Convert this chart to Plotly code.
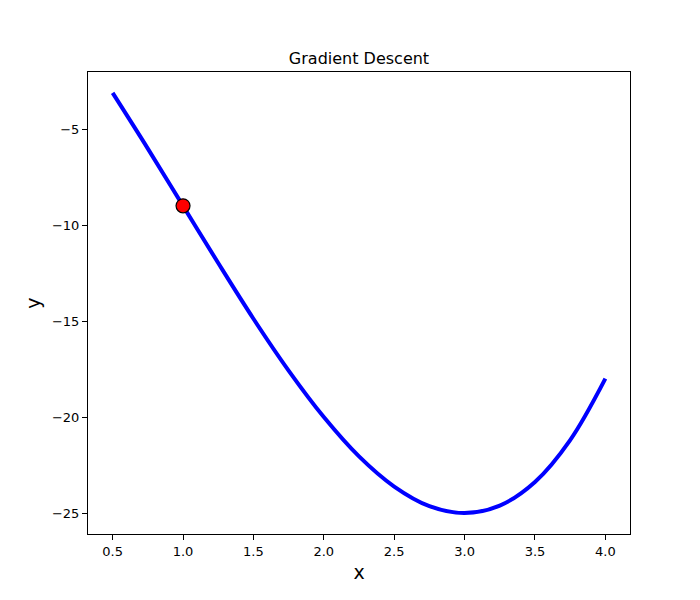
import plotly.graph_objects as go

# values
x_vals = [0.5, 0.75, 1.0, 1.25, 1.5, 1.75, 2.0, 2.25, 2.5, 2.75, 3.0, 3.25, 3.5, 3.75, 4.0]
y_vals = [-3.12, -6.02, -9.0, -11.98, -14.88, -17.58, -20.0, -22.05, -23.62, -24.64,
          -25.0, -24.61, -23.38, -21.2, -18.0]

point_x = [1.0]
point_y = [-9.0]

fig = go.Figure()

fig.add_trace(go.Scatter(
    x=x_vals, y=y_vals, mode='lines',
    line=dict(color='blue', width=4, shape='spline', smoothing=1.0),
    showlegend=False, hoverinfo='skip'
))

fig.add_trace(go.Scatter(
    x=point_x, y=point_y, mode='markers',
    marker=dict(color='red', size=14, line=dict(color='black', width=1.2)),
    showlegend=False
))

axis_style = dict(
    showgrid=False, zeroline=False,
    showline=True, linecolor='black', linewidth=1, mirror=True,
    ticks='outside', ticklen=5, tickwidth=1, tickcolor='black',
    tickfont=dict(size=13, color='black'),
)

fig.update_xaxes(**axis_style, range=[0.325, 4.175], tickvals=[0.5, 1.0, 1.5, 2.0, 2.5, 3.0, 3.5, 4.0],
                 ticktext=['0.5', '1.0', '1.5', '2.0', '2.5', '3.0', '3.5', '4.0'],
                 title=dict(text='x', font=dict(size=19, color='black'), standoff=8))
fig.update_yaxes(**axis_style, range=[-26.09, -2.03], tickvals=[-25, -20, -15, -10, -5],
                 ticktext=['\u221225', '\u221220', '\u221215', '\u221210', '\u22125'],
                 title=dict(text='y', font=dict(size=19, color='black'), standoff=6))

# page body adds an 8px offset, so margins are shifted to match the reference
fig.update_layout(
    width=700, height=600,
    margin=dict(l=80, r=78, t=64, b=74),
    paper_bgcolor='white', plot_bgcolor='white',
    font=dict(family='DejaVu Sans', color='black'),
    title=dict(text='Gradient Descent', x=0.5, xanchor='center', xref='paper',
               y=1 - 56 / 600, yanchor='bottom', font=dict(size=16, color='black')),
)

fig.write_html("out.html")
